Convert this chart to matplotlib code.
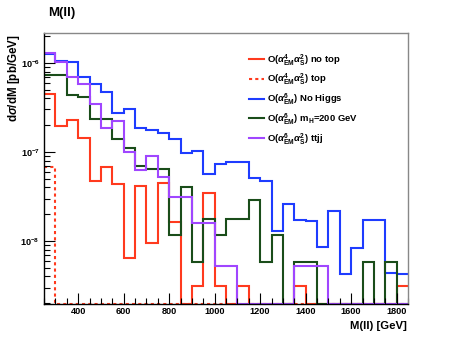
import numpy as np
import matplotlib
matplotlib.use("Agg")
import matplotlib.pyplot as plt
from matplotlib.ticker import FixedLocator, NullFormatter

plt.rcParams['font.family'] = ['Liberation Sans', 'DejaVu Sans']
plt.rcParams['font.weight'] = 'bold'
plt.rcParams['mathtext.fontset'] = 'custom'
plt.rcParams['mathtext.rm'] = 'Liberation Sans:bold'
plt.rcParams['mathtext.bf'] = 'Liberation Sans:bold'
plt.rcParams['mathtext.it'] = 'Liberation Sans:bold:italic'

# 50 GeV bins from 250 to 1850 GeV, values in pb/GeV (0 = empty bin)
edges = np.arange(250, 1851, 50)

no_top = [4.49e-7, 1.98e-7, 2.29e-7, 1.45e-7, 4.76e-8, 6.73e-8, 4.37e-8, 6.39e-9,
          4.15e-8, 9.57e-9, 4.45e-8, 1.65e-8, 0, 3.15e-9, 3.49e-8, 3.15e-9,
          0, 3.15e-9, 0, 0, 0, 0, 3.15e-9, 0,
          0, 0, 0, 0, 0, 0, 0, 3.15e-9]
top = [6.8e-8] + [0] * 31
no_higgs = [1.26e-6, 1.05e-6, 1.03e-6, 6.9e-7, 5.8e-7, 4.69e-7, 2.72e-7, 3.07e-7,
            1.88e-7, 1.77e-7, 1.62e-7, 1.39e-7, 9.7e-8, 1.03e-7, 5.6e-8, 7.3e-8,
            7.8e-8, 7.8e-8, 5.16e-8, 4.76e-8, 1.29e-8, 2.61e-8, 1.72e-8, 1.69e-8,
            8.6e-9, 2.16e-8, 4.3e-9, 8.45e-9, 1.72e-8, 1.71e-8, 4.34e-9, 4.26e-9]
mh200 = [7.24e-7, 7.24e-7, 4.37e-7, 4.18e-7, 2.33e-7, 2.33e-7, 1.40e-7, 1.12e-7,
         6.96e-8, 6.44e-8, 6.44e-8, 1.17e-8, 4.07e-8, 5.85e-9, 1.75e-8, 1.17e-8,
         1.75e-8, 1.75e-8, 2.89e-8, 5.77e-9, 1.17e-8, 0, 5.77e-9, 5.77e-9,
         0, 0, 0, 0, 5.77e-9, 0, 5.77e-9, 0]
ttjj = [1.29e-6, 1.03e-6, 6.9e-7, 5.8e-7, 3.46e-7, 1.88e-7, 2.23e-7, 9.93e-8,
        6.28e-8, 8.95e-8, 5.27e-8, 3.15e-8, 3.15e-8, 1.58e-8, 1.58e-8, 5.24e-9,
        5.24e-9, 0, 0, 0, 0, 0, 5.24e-9, 5.24e-9,
        5.24e-9, 0, 0, 0, 0, 0, 0, 0]

labels = [r'O($\alpha_{\mathrm{EM}}^{4}\alpha_{\mathrm{S}}^{2}$) no top',
          r'O($\alpha_{\mathrm{EM}}^{4}\alpha_{\mathrm{S}}^{2}$) top',
          r'O($\alpha_{\mathrm{EM}}^{6}$) No Higgs',
          r'O($\alpha_{\mathrm{EM}}^{6}$) m$_{\mathrm{H}}$=200 GeV',
          r'O($\alpha_{\mathrm{EM}}^{6}\alpha_{\mathrm{S}}^{2}$) ttjj']

ymin, ymax = 1.96e-9, 2.17e-6

fig = plt.figure(figsize=(4.52, 3.38), dpi=100)
ax = fig.add_axes([44/452, 1-304/338, 364/452, 271/338])

def draw(vals, color, ls='-', label=None):
    v = np.array(vals, dtype=float)
    v = np.where(v > 0, v, ymin)  # empty bins sit on the frame, as ROOT does
    ax.stairs(v, edges, baseline=None, color=color, lw=1.5, ls=ls, label=label)

draw(no_top, '#ff3a1e', label=labels[0])
draw(top, '#ff3a1e', ls=(0, (1.5, 1.5)), label=labels[1])
draw(no_higgs, '#1e3cff', label=labels[2])
draw(mh200, '#1a4d1a', label=labels[3])
draw(ttjj, '#a046ff', label=labels[4])

ax.set_yscale('log')
ax.set_xlim(250, 1850)
ax.set_ylim(ymin, ymax)

ax.xaxis.set_major_locator(FixedLocator(np.arange(400, 1801, 200)))
ax.xaxis.set_minor_locator(FixedLocator(np.arange(250, 1851, 50)))
ax.set_xticklabels([str(x) for x in range(400, 1801, 200)])
ax.yaxis.set_major_locator(FixedLocator([1e-8, 1e-7, 1e-6]))
ax.set_yticklabels([r'$10^{-8}$', r'$10^{-7}$', r'$10^{-6}$'])
ax.yaxis.set_minor_locator(FixedLocator([m * 10.0**e for e in (-9, -8, -7, -6) for m in range(2, 10)]))
ax.yaxis.set_minor_formatter(NullFormatter())
ax.tick_params(which='both', direction='in', top=False, right=False, labelsize=6.6, width=0.8)
ax.tick_params(axis='x', which='major', length=8, pad=2.5)
ax.tick_params(axis='x', which='minor', length=4)
ax.tick_params(axis='y', which='major', length=8, pad=3)
ax.tick_params(axis='y', which='minor', length=4)

for s in ['left', 'bottom']:
    ax.spines[s].set_color('black')
for s in ['top', 'right']:
    ax.spines[s].set_color('#888888')
for s in ax.spines.values():
    s.set_linewidth(1.0)

fig.text(48/452, 1-13/338, 'M(ll)', fontsize=9.5, fontweight='bold', ha='left', va='center')
fig.text(407/452, 1-326/338, 'M(ll) [GeV]', fontsize=8.2, fontweight='bold', ha='right', va='center')
fig.text(14/452, 1-34/338, r'd$\sigma$/dM [pb/GeV]', fontsize=8.4, fontweight='bold',
         rotation=90, ha='center', va='top')

leg = ax.legend(loc='upper left', bbox_to_anchor=(201/364, 1-15/271), frameon=False,
                fontsize=6.8, handlelength=1.6, handletextpad=0.35, labelspacing=0.42,
                borderaxespad=0)

fig.savefig('out.png', dpi=100)
